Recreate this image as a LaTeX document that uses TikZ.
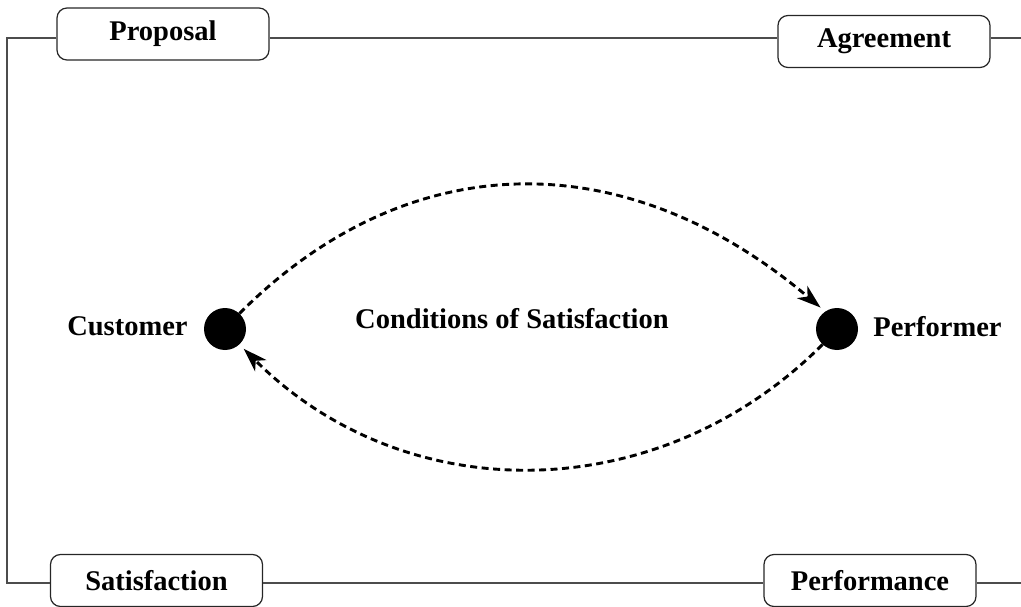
\documentclass[tikz,border=0pt]{standalone}
\usepackage{fontspec}
\setmainfont{Liberation Serif}
\usetikzlibrary{arrows.meta}
\begin{document}
\begin{tikzpicture}[x=1pt,y=-1pt,
  phase/.style={draw=black!85, line width=1.2pt, rounded corners=10pt,
    minimum width=212pt, minimum height=52pt, inner sep=0pt,
    font=\fontsize{28.5}{31}\selectfont\bfseries},
  frame/.style={draw=black!70, line width=1.2pt, line join=miter},
  party/.style={circle, fill=black, minimum size=42pt, inner sep=0pt},
  lbl/.style={font=\fontsize{28.5}{31}\selectfont\bfseries, inner sep=0pt},
  flow/.style={line width=2.9pt, dash pattern=on 7pt off 4.5pt,
    -{Stealth[length=24pt,width=16pt,inset=7pt]}, shorten >=6pt}
]
\useasboundingbox (0,0) rectangle (1021,607);

% the four phases of the loop
\node[phase] (prop) at (163,34)     {Proposal};
\node[phase] (agr)  at (884,41.5)   {Agreement};
\node[phase] (sat)  at (156.5,580.5) {Satisfaction};
\node[phase] (pfm)  at (870,580.5)  {Performance};

% corners and open ends of the frame
\coordinate (tl) at (7,38);
\coordinate (bl) at (7,583);
\coordinate (tr) at (1021,38);
\coordinate (br) at (1021,583);

\draw[frame] (prop.west |- tl) -- (tl) -- (bl) -- (sat.west |- bl);
\draw[frame] (prop.east |- tl) -- (agr.west |- tr);
\draw[frame] (agr.east |- tr) -- (tr);
\draw[frame] (sat.east |- bl) -- (pfm.west |- br);
\draw[frame] (pfm.east |- br) -- (br);

% the two parties
\node[party] (cust) at (225,329) {};
\node[party] (prf)  at (837,329) {};
\node[lbl, anchor=base east] (custlbl) at ([xshift=-16pt,yshift=-6pt]cust.west) {Customer};
\node[lbl, anchor=base west] (prflbl)  at ([xshift=15pt,yshift=-7pt]prf.east) {Performer};
\node[lbl, anchor=base] (cos) at (512,328) {Conditions of Satisfaction};

% request and delivery flows
\draw[flow] (cust.47) .. controls +(169,-169) and +(-200,-169) .. (prf.124);
\draw[flow] (prf.-133) .. controls +(-165,165) and +(165,165) .. (cust.-47);
\end{tikzpicture}
\end{document}
